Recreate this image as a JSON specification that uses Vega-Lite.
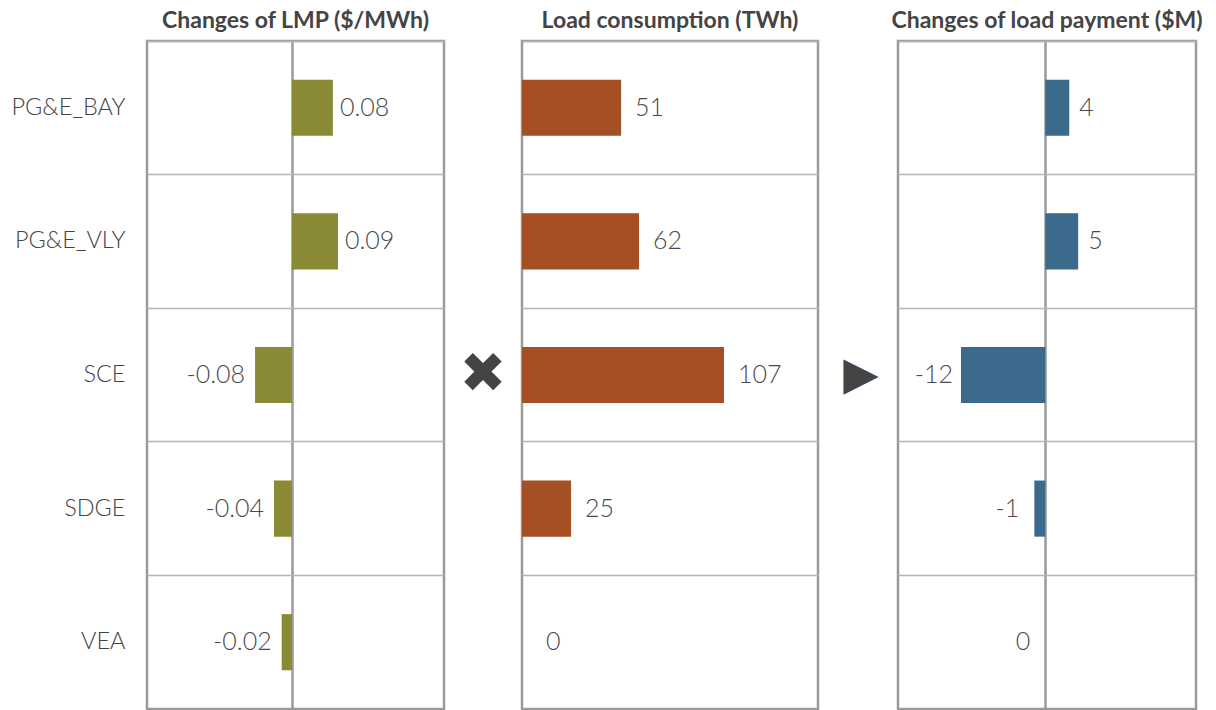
{
  "$schema": "https://vega.github.io/schema/vega-lite/v6.json",
  "padding": {"left": 9, "top": 8, "right": 0, "bottom": 0},
  "spacing": 0,
  "bounds": "flush",
  "config": {
    "font": "Lato",
    "view": {"stroke": "#9a9a9a", "strokeWidth": 2.5},
    "title": {"fontSize": 23, "font": "Lato", "fontWeight": "bold", "color": "#444444", "offset": 8, "anchor": "middle"},
    "text": {"font": "Lato", "fontSize": 25, "fill": "#4a4a4a", "baseline": "middle", "fontWeight": 300}
  },
  "datasets": {
    "regions": [
      {"region": "PG&E_BAY", "lmp": 0.08, "lmpLabel": "0.08", "load": 52.5, "loadLabel": "51", "pay": 3.5, "payLabel": "4"},
      {"region": "PG&E_VLY", "lmp": 0.09, "lmpLabel": "0.09", "load": 62, "loadLabel": "62", "pay": 4.8, "payLabel": "5"},
      {"region": "SCE", "lmp": -0.072, "lmpLabel": "-0.08", "load": 107, "loadLabel": "107", "pay": -12.3, "payLabel": "-12"},
      {"region": "SDGE", "lmp": -0.035, "lmpLabel": "-0.04", "load": 26, "loadLabel": "25", "pay": -1.6, "payLabel": "-1"},
      {"region": "VEA", "lmp": -0.02, "lmpLabel": "-0.02", "load": 0, "loadLabel": "0", "pay": 0, "payLabel": "0"}
    ]
  },
  "hconcat": [
    {
      "title": "Changes of LMP ($/MWh)",
      "width": 297, "height": 668,
      "data": {"name": "regions"},
      "encoding": {
        "y": {"field": "region", "type": "nominal", "sort": null,
              "scale": {"paddingInner": 0, "paddingOuter": 0},
              "axis": {"title": null, "domain": false, "ticks": false, "labelFontSize": 23.5, "labelFont": "Lato", "labelFontWeight": 300, "labelColor": "#444444", "labelPadding": 22, "grid": true, "bandPosition": 0, "gridColor": "#b5b5b5", "gridWidth": 1.5}}
      },
      "layer": [
        {"mark": {"type": "bar", "color": "#8a8a35", "height": {"band": 0.42}},
         "encoding": {"x": {"field": "lmp", "type": "quantitative", "scale": {"domain": [-0.283, 0.297], "nice": false, "zero": false},
           "axis": {"title": null, "values": [0], "grid": true, "labels": false, "ticks": false, "domain": false, "gridColor": "#9a9a9a", "gridWidth": 2.5}}}},
        {"transform": [{"filter": "datum.lmp >= 0"}],
         "mark": {"type": "text", "align": "left", "dx": 7},
         "encoding": {"x": {"field": "lmp", "type": "quantitative"}, "text": {"field": "lmpLabel"}}},
        {"transform": [{"filter": "datum.lmp < 0"}],
         "mark": {"type": "text", "align": "right", "dx": -10},
         "encoding": {"x": {"field": "lmp", "type": "quantitative"}, "text": {"field": "lmpLabel"}}}
      ]
    },
    {
      "title": " ",
      "width": 78, "height": 668,
      "view": {"stroke": null},
      "data": {"name": "regions"},
      "transform": [{"filter": "datum.region == 'SCE'"}],
      "mark": {"type": "text", "font": "DejaVu Sans", "fontSize": 56, "fontWeight": "normal", "fill": "#444444"},
      "encoding": {
        "y": {"field": "region", "type": "nominal", "scale": {"domain": ["PG&E_BAY", "PG&E_VLY", "SCE", "SDGE", "VEA"], "paddingInner": 0, "paddingOuter": 0}, "axis": null},
        "text": {"value": "✖"}
      }
    },
    {
      "title": "Load consumption (TWh)",
      "width": 296, "height": 668,
      "data": {"name": "regions"},
      "encoding": {
        "y": {"field": "region", "type": "nominal", "sort": null,
              "scale": {"paddingInner": 0, "paddingOuter": 0},
              "axis": {"title": null, "domain": false, "ticks": false, "labels": false, "grid": true, "bandPosition": 0, "gridColor": "#b5b5b5", "gridWidth": 1.5}}
      },
      "layer": [
        {"mark": {"type": "bar", "color": "#a54f24", "height": {"band": 0.42}},
         "encoding": {"x": {"field": "load", "type": "quantitative", "scale": {"domain": [0, 156.8], "nice": false}, "axis": null}}},
        {"transform": [{"filter": "datum.load > 0"}],
         "mark": {"type": "text", "align": "left", "dx": 14},
         "encoding": {"x": {"field": "load", "type": "quantitative"}, "text": {"field": "loadLabel"}}},
        {"transform": [{"filter": "datum.load <= 0"}],
         "mark": {"type": "text", "align": "left", "dx": 24},
         "encoding": {"x": {"field": "load", "type": "quantitative"}, "text": {"field": "loadLabel"}}}
      ]
    },
    {
      "title": " ",
      "width": 80, "height": 668,
      "view": {"stroke": null},
      "data": {"name": "regions"},
      "transform": [{"filter": "datum.region == 'SCE'"}],
      "mark": {"type": "text", "font": "DejaVu Sans", "fontSize": 46, "fontWeight": "normal", "fill": "#444444", "dx": 3},
      "encoding": {
        "y": {"field": "region", "type": "nominal", "scale": {"domain": ["PG&E_BAY", "PG&E_VLY", "SCE", "SDGE", "VEA"], "paddingInner": 0, "paddingOuter": 0}, "axis": null},
        "text": {"value": "▶"}
      }
    },
    {
      "title": "Changes of load payment ($M)",
      "width": 298, "height": 668,
      "data": {"name": "regions"},
      "encoding": {
        "y": {"field": "region", "type": "nominal", "sort": null,
              "scale": {"paddingInner": 0, "paddingOuter": 0},
              "axis": {"title": null, "domain": false, "ticks": false, "labels": false, "grid": true, "bandPosition": 0, "gridColor": "#b5b5b5", "gridWidth": 1.5}}
      },
      "layer": [
        {"mark": {"type": "bar", "color": "#3b6a8c", "height": {"band": 0.42}},
         "encoding": {"x": {"field": "pay", "type": "quantitative", "scale": {"domain": [-21.5, 22], "nice": false, "zero": false},
           "axis": {"title": null, "values": [0], "grid": true, "labels": false, "ticks": false, "domain": false, "gridColor": "#9a9a9a", "gridWidth": 2.5}}}},
        {"transform": [{"filter": "datum.pay > 0"}],
         "mark": {"type": "text", "align": "left", "dx": 10},
         "encoding": {"x": {"field": "pay", "type": "quantitative"}, "text": {"field": "payLabel"}}},
        {"transform": [{"filter": "datum.pay < -5"}],
         "mark": {"type": "text", "align": "right", "dx": -8},
         "encoding": {"x": {"field": "pay", "type": "quantitative"}, "text": {"field": "payLabel"}}},
        {"transform": [{"filter": "datum.pay <= 0 && datum.pay >= -5"}],
         "mark": {"type": "text", "align": "right", "dx": -15},
         "encoding": {"x": {"field": "pay", "type": "quantitative"}, "text": {"field": "payLabel"}}}
      ]
    }
  ]
}
